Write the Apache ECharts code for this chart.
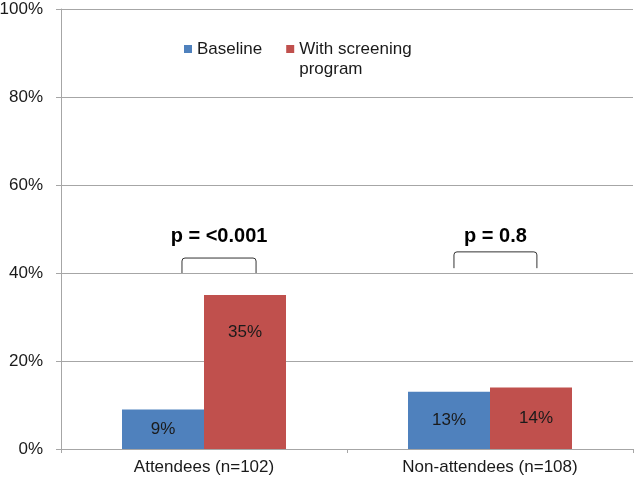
<!DOCTYPE html>
<html>
<head>
<meta charset="utf-8">
<script src="https://cdn.jsdelivr.net/npm/echarts@6/dist/echarts.min.js"></script>
<style>html,body{margin:0;padding:0;background:#fff;}#c{width:636px;height:483px;}</style>
</head>
<body>
<div id="c"></div>
<script>
var categories = ['Attendees (n=102)', 'Non-attendees (n=108)'];
var seriesNames = ['Baseline', 'With screening program'];
var baseline = [9, 13];
var screening = [35, 14];
var yTicks = [0, 20, 40, 60, 80, 100];
var pLabels = ['p = <0.001', 'p = 0.8'];
var bracketTop = [43.4, 44.8];
var bracketBottom = [40, 41.1];
var pTextY = [48.2, 48.2];

var FONT = '"Liberation Sans", Arial, sans-serif';
var chart = echarts.init(document.getElementById('c'), null, {renderer: 'canvas'});

// bracket horizontal span as fractions of category band (layout only)
var spans = [[-0.077, 0.182], [-0.126, 0.164]];

var bracketData = categories.map(function (c, i) {
  return [i, bracketTop[i], bracketBottom[i], pTextY[i]];
});

var option = {
  animation: false,
  backgroundColor: '#fff',
  textStyle: {fontFamily: FONT},
  grid: {left: 61, right: 3, top: 9, bottom: 34, containLabel: false, outerBoundsMode: 'none'},
  legend: {
    left: 184, top: 19, padding: 0,
    itemWidth: 8, itemHeight: 8, itemGap: 24,
    icon: 'rect',
    data: seriesNames,
    formatter: function (n) { return n === seriesNames[1] ? '\u00a0\nWith screening\nprogram' : n; },
    textStyle: {fontFamily: FONT, fontSize: 17, color: '#1a1a1a', lineHeight: 20}
  },
  xAxis: {
    type: 'category',
    data: categories,
    axisLine: {show: true, lineStyle: {color: '#a6a6a6', width: 1}},
    axisTick: {show: true, length: 4, alignWithLabel: false, lineStyle: {color: '#a6a6a6'}},
    axisLabel: {fontFamily: FONT, fontSize: 17, color: '#1a1a1a', margin: 10}
  },
  yAxis: {
    type: 'value', min: 0, max: 100, interval: 20,
    axisLine: {show: true, lineStyle: {color: '#a6a6a6', width: 1}},
    axisTick: {show: true, length: 5, lineStyle: {color: '#a6a6a6'}},
    splitLine: {show: true, lineStyle: {color: '#a6a6a6', width: 1}},
    axisLabel: {fontFamily: FONT, fontSize: 17, color: '#1a1a1a', margin: 18,
      formatter: function (v) { return v + '%'; }}
  },
  series: [
    {
      name: seriesNames[0], type: 'bar', barWidth: 82, barGap: '0%',
      itemStyle: {color: '#4f81bd'},
      label: {show: true, position: 'inside', fontFamily: FONT, fontSize: 17, color: '#1a1a1a',
        formatter: function (p) { return p.value + '%'; }},
      data: baseline
    },
    {
      name: seriesNames[1], type: 'bar', barWidth: 82, barGap: '0%',
      itemStyle: {color: '#c0504d'},
      label: {show: true, position: 'inside', fontFamily: FONT, fontSize: 17, color: '#1a1a1a',
        formatter: function (p) { return p.value + '%'; }},
      data: screening.map(function (v, i) {
        return i === 0 ? {value: v, label: {position: 'insideTop', distance: 29}} : {value: v, label: {offset: [5, 0]}};
      })
    },
    {
      type: 'custom',
      silent: true,
      z: 5,
      data: bracketData,
      renderItem: function (params, api) {
        var idx = api.value(0);
        var c = api.coord([idx, api.value(1)]);
        var b = api.coord([idx, api.value(2)]);
        var t = api.coord([idx, api.value(3)]);
        var band = api.size([1, 0])[0];
        var sp = spans[params.dataIndex];
        var x1 = c[0] + sp[0] * band, x2 = c[0] + sp[1] * band;
        var yT = c[1], yB = b[1], r = 3;
        var path = 'M' + x1 + ',' + yB + 'L' + x1 + ',' + (yT + r) +
          'Q' + x1 + ',' + yT + ',' + (x1 + r) + ',' + yT +
          'L' + (x2 - r) + ',' + yT +
          'Q' + x2 + ',' + yT + ',' + x2 + ',' + (yT + r) +
          'L' + x2 + ',' + yB;
        return {
          type: 'group',
          children: [
            {type: 'path', shape: {pathData: path}, style: {fill: null, stroke: '#333', lineWidth: 1}},
            {type: 'text', style: {text: pLabels[params.dataIndex], x: (x1 + x2) / 2, y: t[1],
              align: 'center', verticalAlign: 'middle', fontFamily: FONT, fontSize: 20, fontWeight: 'bold', fill: '#000'}}
          ]
        };
      }
    }
  ]
};
chart.setOption(option);
</script>
</body>
</html>
